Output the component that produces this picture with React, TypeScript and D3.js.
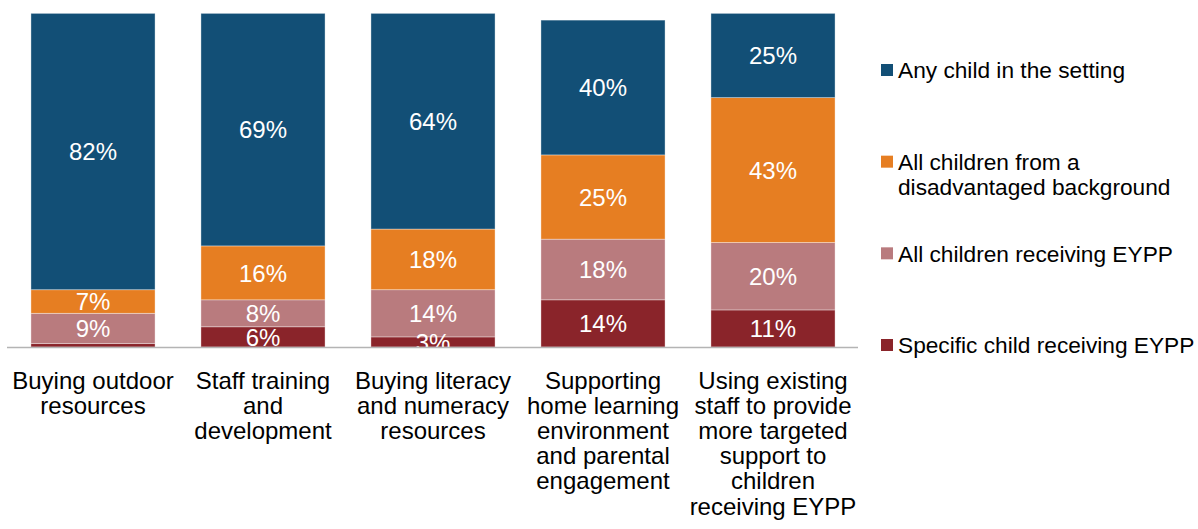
import React, { useEffect, useRef } from 'react';
import * as d3 from 'd3';

const categories = [
  ['Buying outdoor', 'resources'],
  ['Staff training', 'and', 'development'],
  ['Buying literacy', 'and numeracy', 'resources'],
  ['Supporting', 'home learning', 'environment', 'and parental', 'engagement'],
  ['Using existing', 'staff to provide', 'more targeted', 'support to', 'children', 'receiving EYPP'],
];

const seriesNames = [
  'Specific child receiving EYPP',
  'All children receiving EYPP',
  'All children from a disadvantaged background',
  'Any child in the setting',
];

const specificChild = [1, 6, 3, 14, 11];
const allEypp = [9, 8, 14, 18, 20];
const allDisadvantaged = [7, 16, 18, 25, 43];
const anyChild = [82, 69, 64, 40, 25];

const colors = ['#8a242a', '#b97b7e', '#e67e22', '#124f76'];

const legendLines = [
  ['Any child in the setting'],
  ['All children from a', 'disadvantaged background'],
  ['All children receiving EYPP'],
  ['Specific child receiving EYPP'],
];

const App = () => {
  const svgRef = useRef(null);

  useEffect(() => {
    const svg = d3.select(svgRef.current);
    svg.selectAll('*').remove();

    const font = 'Liberation Sans, Arial, sans-serif';

    const x = d3
      .scaleBand()
      .domain(categories.map((d, i) => String(i)))
      .range([8, 858])
      .paddingInner(0.27)
      .paddingOuter(0.135);

    const y = d3.scaleLinear().domain([0, 100]).range([347, 10]);

    const rows = categories.map((c, i) => ({
      key: String(i),
      s0: specificChild[i],
      s1: allEypp[i],
      s2: allDisadvantaged[i],
      s3: anyChild[i],
    }));

    const layers = d3.stack().keys(['s0', 's1', 's2', 's3'])(rows);

    const g = svg.append('g');

    layers.forEach((layer, li) => {
      layer.forEach((d, i) => {
        const key = String(i);
        g.append('rect')
          .attr('x', x(key))
          .attr('y', y(d[1]))
          .attr('width', x.bandwidth())
          .attr('height', y(d[0]) - y(d[1]))
          .attr('fill', colors[li])
          .attr('stroke', 'rgba(255,255,255,0.45)')
          .attr('stroke-width', 0.8);
      });
    });

    // value labels, tiny slices have none
    layers.forEach((layer) => {
      layer.forEach((d, i) => {
        const v = d[1] - d[0];
        if (v < 2) return;
        g.append('text')
          .attr('x', x(String(i)) + x.bandwidth() / 2)
          .attr('y', (y(d[0]) + y(d[1])) / 2)
          .attr('dy', '0.36em')
          .attr('text-anchor', 'middle')
          .attr('fill', '#fff')
          .style('font-family', font)
          .style('font-size', '24px')
          .text(`${v}%`);
      });
    });

    // axis line
    g.append('line')
      .attr('x1', 7)
      .attr('x2', 858)
      .attr('y1', y(0) + 0.5)
      .attr('y2', y(0) + 0.5)
      .attr('stroke', '#b4b4b4')
      .attr('stroke-width', 1.5);

    // category labels
    categories.forEach((lines, i) => {
      const t = g
        .append('text')
        .attr('text-anchor', 'middle')
        .style('font-family', font)
        .style('font-size', '24px')
        .attr('fill', '#000');
      lines.forEach((line, j) => {
        t.append('tspan')
          .attr('x', x(String(i)) + x.bandwidth() / 2)
          .attr('y', 380 + j * 25.2)
          .attr('dy', '0.36em')
          .text(line);
      });
    });

    // legend
    const legendY = d3.scalePoint().domain(d3.range(4).map(String)).range([70, 345]);
    const legendColors = [colors[3], colors[2], colors[1], colors[0]];
    legendLines.forEach((lines, i) => {
      const cy = legendY(String(i));
      g.append('rect')
        .attr('x', 881)
        .attr('y', cy - 6)
        .attr('width', 12)
        .attr('height', 12)
        .attr('fill', legendColors[i]);
      const t = g
        .append('text')
        .style('font-family', font)
        .style('font-size', '22.7px')
        .attr('fill', '#000');
      lines.forEach((line, j) => {
        t.append('tspan')
          .attr('x', 898)
          .attr('y', cy + j * 25)
          .attr('dy', '0.36em')
          .text(line);
      });
    });
  }, []);

  return (
    <svg
      ref={svgRef}
      width={1198}
      height={529}
      style={{ position: 'absolute', left: 0, top: 0, background: '#fff' }}
    ></svg>
  );
};

export default App;
